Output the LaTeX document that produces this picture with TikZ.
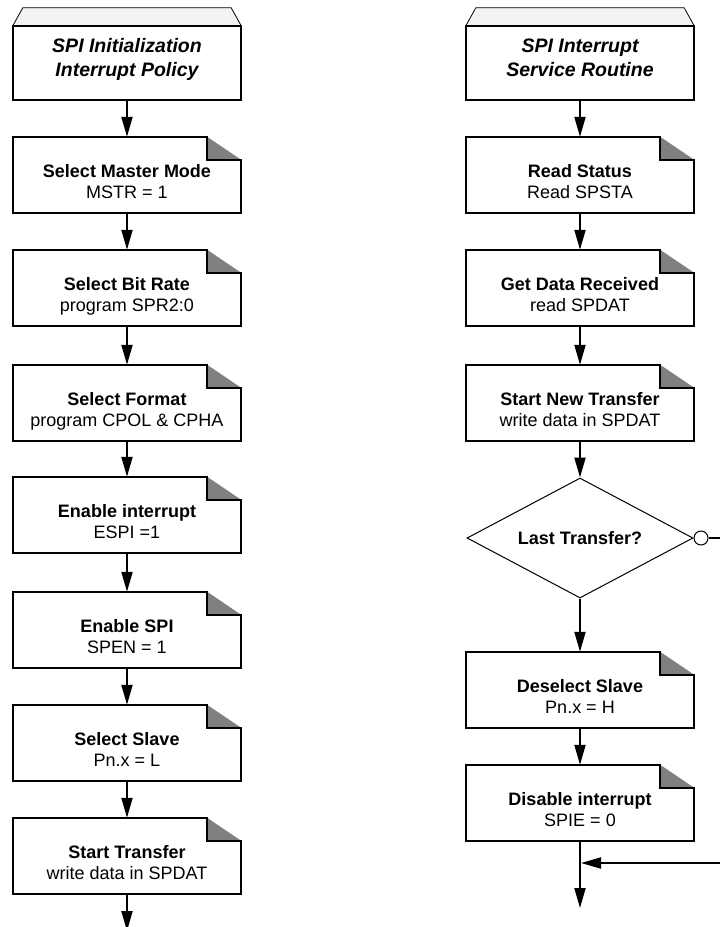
\documentclass[tikz,border=0pt]{standalone}
\usepackage{fontspec}
\setmainfont{Liberation Sans}
\usetikzlibrary{arrows.meta,calc,shapes.geometric}
\definecolor{foldgray}{RGB}{128,128,128}
\definecolor{lidgray}{RGB}{242,242,242}
\tikzset{
  box/.style={rectangle, minimum width=228pt, minimum height=76pt, inner sep=0pt},
  hd/.style={rectangle, minimum width=228pt, minimum height=74pt, inner sep=0pt},
  ttl/.style={anchor=base, inner sep=0pt, font=\fontsize{19.5}{22}\selectfont\bfseries\itshape},
  bt/.style={anchor=base, inner sep=0pt, font=\fontsize{18}{21}\selectfont\bfseries},
  rt/.style={anchor=base, inner sep=0pt, font=\fontsize{18}{21}\selectfont},
  arr/.style={line width=2pt, -{Triangle[length=20pt,width=11pt]}},
  outl/.style={line width=2pt, line join=miter},
  thinl/.style={line width=1pt}
}
\newcommand\foldbox[1]{%
  \fill[foldgray] ($(#1.north east)+(-34,0)$) -- ++(0,23) -- ($(#1.north east)+(0,23)$) -- cycle;
  \draw[outl] ($(#1.north east)+(-34,23)$) -- ($(#1.north east)+(-34,0)$) -- (#1.north west)
     -- (#1.south west) -- (#1.south east) -- ($(#1.north east)+(0,23)$) -- cycle;
}
\newcommand\procbox[5]{%
  \node[box] (#1) at (#2,#3+38) {};
  \foldbox{#1}
  \node[bt] (#1t) at ($(#1.north)+(0,41)$) {#4};
  \node[rt] (#1s) at ($(#1.north)+(0,62)$) {#5};
}
\newcommand\headbox[4]{%
  \node[hd] (#1) at (#2,63) {};
  \filldraw[fill=lidgray, line width=0.8pt] (#1.north west) -- ($(#1.north west)+(10,-18)$)
     -- ($(#1.north east)+(-10,-18)$) -- (#1.north east);
  \draw[outl] (#1.north west) rectangle (#1.south east);
  \node[ttl] (#1a) at ($(#1.north)+(0,27)$) {#3};
  \node[ttl] (#1b) at ($(#1.north)+(0,51)$) {#4};
}
\begin{document}
\begin{tikzpicture}[x=1pt,y=-1pt]
\useasboundingbox (0,0) rectangle (720,927);
\fill[white] (0,0) rectangle (720,927);

% left column
\headbox{h1}{127}{SPI Initialization}{Interrupt Policy}
\procbox{m1}{127}{137}{Select Master Mode}{MSTR = 1}
\procbox{m2}{127}{250}{Select Bit Rate}{program SPR2:0}
\procbox{m3}{127}{365}{Select Format}{program CPOL \& CPHA}
\procbox{m4}{127}{477}{Enable interrupt}{ESPI =1}
\procbox{m5}{127}{592}{Enable SPI}{SPEN = 1}
\procbox{m6}{127}{705}{Select Slave}{Pn.x = L}
\procbox{m7}{127}{818}{Start Transfer}{write data in SPDAT}
\coordinate (lend) at (127,931);

\draw[arr] (h1.south) -- (m1.north);
\draw[arr] (m1.south) -- (m2.north);
\draw[arr] (m2.south) -- (m3.north);
\draw[arr] (m3.south) -- (m4.north);
\draw[arr] (m4.south) -- (m5.north);
\draw[arr] (m5.south) -- (m6.north);
\draw[arr] (m6.south) -- (m7.north);
\draw[arr] (m7.south) -- (lend);

% right column
\headbox{h2}{580}{SPI Interrupt}{Service Routine}
\procbox{r1}{580}{137}{Read Status}{Read SPSTA}
\procbox{r2}{580}{250}{Get Data Received}{read SPDAT}
\procbox{r3}{580}{365}{Start New Transfer}{write data in SPDAT}
\node[diamond, draw, thinl, aspect=1.88, minimum width=226pt, minimum height=120pt,
      inner sep=0pt, font=\fontsize{18}{21}\selectfont\bfseries] (d) at (580,538) {Last Transfer?};
\node[circle, draw, thinl, fill=white, minimum size=14pt, inner sep=0pt, anchor=west] (c) at (d.east) {};
\procbox{r4}{580}{652}{Deselect Slave}{Pn.x = H}
\procbox{r5}{580}{765}{Disable interrupt}{SPIE = 0}
\coordinate (j) at (581,863);
\coordinate (byp) at (724,863);
\coordinate (rend) at (580,908);

\draw[arr] (h2.south) -- (r1.north);
\draw[arr] (r1.south) -- (r2.north);
\draw[arr] (r2.south) -- (r3.north);
\draw[arr] (r3.south) -- (d.north);
\draw[arr] (d.south) -- (r4.north);
\draw[arr] (r4.south) -- (r5.north);
\draw[arr] (r5.south) -- (rend);
\draw[arr] (c.east) -| (byp) -- (j);
\end{tikzpicture}
\end{document}
